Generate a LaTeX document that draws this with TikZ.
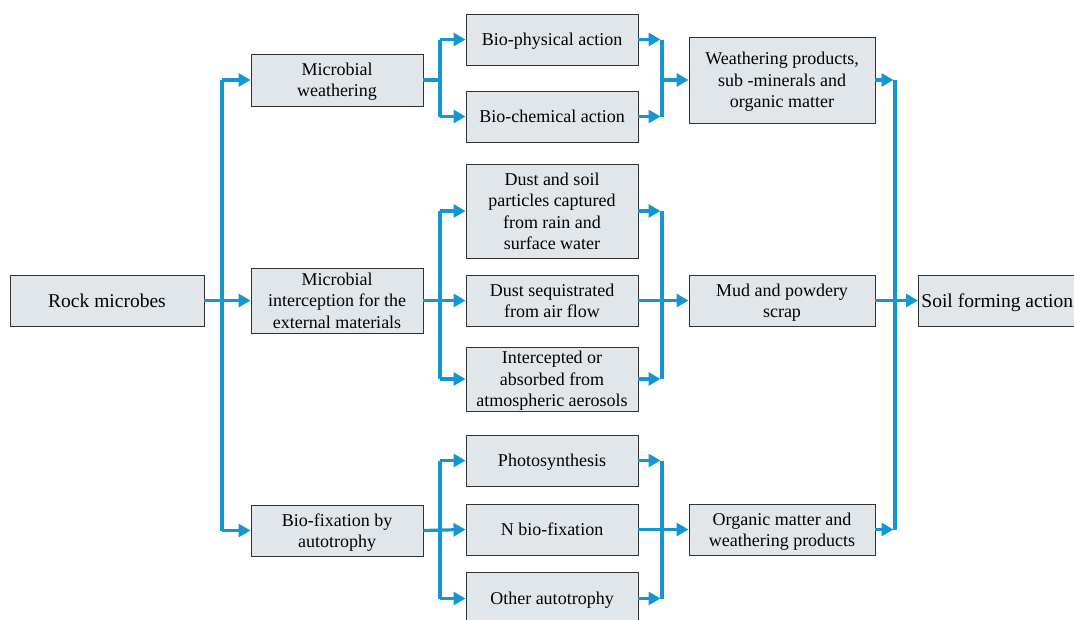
\documentclass[tikz,border=0pt]{standalone}
\usepackage{fontspec}
\setmainfont{Liberation Serif}
\usetikzlibrary{arrows.meta}
\definecolor{flowblue}{RGB}{20,150,208}
\definecolor{boxfill}{RGB}{225,230,234}
\definecolor{boxline}{RGB}{50,50,50}
\tikzset{
  box/.style={draw=boxline, line width=0.9pt, fill=boxfill, align=center, inner sep=2pt,
    text depth=0pt, font=\fontsize{18}{21.5}\selectfont},
  lvl/.style={box, minimum width=172pt},
  lvlw/.style={box, minimum width=186pt},
  flowline/.style={draw=flowblue, line width=3.2pt},
  flowarr/.style={flowline, -{Triangle[length=12pt,width=13pt]}},
}
\begin{document}
\begin{tikzpicture}[x=1pt,y=-1pt]
\useasboundingbox (0,0) rectangle (1074,619);
% column 1
\node[box, minimum width=194pt, minimum height=51pt, font=\fontsize{19.5}{22}\selectfont] (rock) at (107,300.5) {Rock microbes};
% column 2
\node[lvl, minimum height=52pt] (mw) at (337,80) {Microbial\\weathering};
\node[lvl, minimum height=65pt] (mi) at (337,300.5) {Microbial\\interception for the\\external materials};
\node[lvl, minimum height=51pt] (bf) at (337,530.5) {Bio-fixation by\\autotrophy};
% column 3
\node[lvl, minimum height=51pt] (bp) at (552,39.5) {Bio-physical action};
\node[lvl, minimum height=51pt] (bc) at (552,116.5) {Bio-chemical action};
\node[lvl, minimum height=94pt] (ds) at (552,211) {Dust and soil\\particles captured\\from rain and\\surface water};
\node[lvl, minimum height=51pt] (dq) at (552,300.5) {Dust sequistrated\\from air flow};
\node[lvl, minimum height=64pt] (ia) at (552,379) {Intercepted or\\absorbed from\\atmospheric aerosols};
\node[lvl, minimum height=51pt] (ph) at (552,460.5) {Photosynthesis};
\node[lvl, minimum height=51pt] (nb) at (552,529.5) {N bio-fixation};
\node[lvl, minimum height=53pt] (oa) at (552,598.5) {Other autotrophy};
% column 4
\node[lvlw, minimum height=86pt] (wp) at (782,80) {Weathering products,\\sub -minerals and\\organic matter};
\node[lvlw, minimum height=51pt] (mp) at (782,300.5) {Mud and powdery\\scrap};
\node[lvlw, minimum height=51pt] (om) at (782,529.5) {Organic matter and\\weathering products};
% column 5
\node[box, anchor=west, minimum height=51pt, inner xsep=3pt, font=\fontsize{19.5}{22}\selectfont] (sf) at (918,300.5) {Soil forming action};

% trunk coordinates
\coordinate (t1) at (222,0);
\coordinate (t2) at (440,0);
\coordinate (t3) at (662,0);
\coordinate (t4) at (895,0);

% rock -> column 2
\draw[flowline] (t1 |- mw.west) -- (t1 |- bf.west);
\draw[flowarr] (t1 |- mw.west) -- (mw.west);
\draw[flowarr] (rock.east) -- (mi.west);
\draw[flowarr] (t1 |- bf.west) -- (bf.west);

% column 2 -> column 3
\draw[flowline] (mw.east) -- (mw.east -| t2);
\draw[flowline] (t2 |- bp.west) -- (t2 |- bc.west);
\draw[flowarr] (t2 |- bp.west) -- (bp.west);
\draw[flowarr] (t2 |- bc.west) -- (bc.west);

\draw[flowline] (t2 |- ds.west) -- (t2 |- ia.west);
\draw[flowarr] (t2 |- ds.west) -- (ds.west);
\draw[flowarr] (mi.east) -- (dq.west);
\draw[flowarr] (t2 |- ia.west) -- (ia.west);

\draw[flowline] (t2 |- ph.west) -- (t2 |- oa.west);
\draw[flowarr] (t2 |- ph.west) -- (ph.west);
\draw[flowarr] (bf.east) -- (nb.west);
\draw[flowarr] (t2 |- oa.west) -- (oa.west);

% column 3 -> column 4
\draw[flowline] (t3 |- bp.east) -- (t3 |- bc.east);
\draw[flowarr, shorten >=1.5pt] (bp.east) -- (bp.east -| t3);
\draw[flowarr, shorten >=1.5pt] (bc.east) -- (bc.east -| t3);
\draw[flowarr] (t3 |- wp.west) -- (wp.west);

\draw[flowline] (t3 |- ds.east) -- (t3 |- ia.east);
\draw[flowarr, shorten >=1.5pt] (ds.east) -- (ds.east -| t3);
\draw[flowarr, shorten >=1.5pt] (ia.east) -- (ia.east -| t3);
\draw[flowarr] (dq.east) -- (mp.west);

\draw[flowline] (t3 |- ph.east) -- (t3 |- oa.east);
\draw[flowarr, shorten >=1.5pt] (ph.east) -- (ph.east -| t3);
\draw[flowarr, shorten >=1.5pt] (oa.east) -- (oa.east -| t3);
\draw[flowarr] (nb.east) -- (om.west);

% column 4 -> soil forming
\draw[flowline] (t4 |- wp.east) -- (t4 |- om.east);
\draw[flowarr, shorten >=1.5pt] (wp.east) -- (wp.east -| t4);
\draw[flowarr, shorten >=1.5pt] (om.east) -- (om.east -| t4);
\draw[flowarr] (mp.east) -- (sf.west);
\end{tikzpicture}
\end{document}
